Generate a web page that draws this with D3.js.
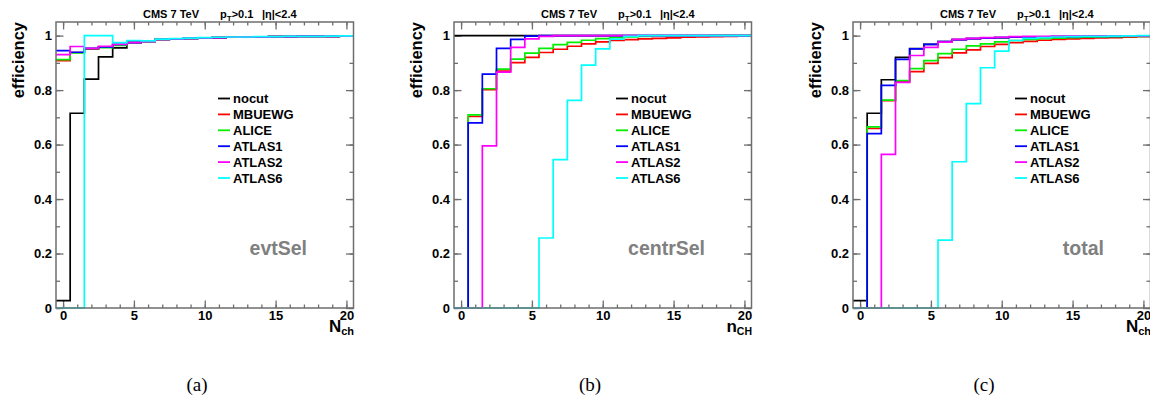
<!DOCTYPE html>
<html>
<head>
<meta charset="utf-8">
<script src="https://cdn.jsdelivr.net/npm/d3@7/dist/d3.min.js"></script>
<style>
  html, body { margin: 0; padding: 0; background: #fff; }
  svg { display: block; font-family: "Liberation Sans", Arial, sans-serif; }
</style>
</head>
<body>
<svg id="chart" width="1150" height="399"></svg>
<script>
// Bin centres 0..20 (unit-width bins)
const nch = d3.range(0, 21);

const seriesNames = ["nocut", "MBUEWG", "ALICE", "ATLAS1", "ATLAS2", "ATLAS6"];
const seriesColors = ["#000000", "#ff0000", "#00ee00", "#0000ff", "#ff00ff", "#00ffff"];

// (a) event selection efficiency
const evtSel_nocut  = [0.027, 0.715, 0.840, 0.922, 0.955, 0.975, 0.979, 0.986, 0.988, 0.990, 0.992, 0.993, 0.994, 0.995, 0.995, 0.996, 0.996, 0.997, 0.997, 0.997, 0.998];
const evtSel_MBUEWG = [0.908, 0.938, 0.950, 0.958, 0.966, 0.973, 0.979, 0.986, 0.988, 0.990, 0.992, 0.993, 0.994, 0.995, 0.995, 0.996, 0.996, 0.997, 0.997, 0.997, 0.998];
const evtSel_ALICE  = [0.912, 0.937, 0.952, 0.956, 0.964, 0.972, 0.979, 0.986, 0.988, 0.990, 0.992, 0.993, 0.994, 0.995, 0.995, 0.996, 0.996, 0.997, 0.997, 0.997, 0.998];
const evtSel_ATLAS1 = [0.945, 0.939, 0.953, 0.959, 0.968, 0.974, 0.979, 0.986, 0.988, 0.990, 0.992, 0.993, 0.994, 0.995, 0.995, 0.996, 0.996, 0.997, 0.997, 0.997, 0.998];
const evtSel_ATLAS2 = [0.930, 0.960, 0.953, 0.961, 0.968, 0.974, 0.979, 0.986, 0.988, 0.990, 0.992, 0.993, 0.994, 0.995, 0.995, 0.996, 0.996, 0.997, 0.997, 0.997, 0.998];
const evtSel_ATLAS6 = [0.000, 0.000, 1.000, 1.000, 0.974, 0.982, 0.981, 0.987, 0.989, 0.991, 0.993, 0.994, 0.995, 0.995, 0.996, 0.996, 0.997, 0.997, 0.997, 0.998, 0.999];

// (b) centrality-selection efficiency
const centrSel_nocut  = [1, 1, 1, 1, 1, 1, 1, 1, 1, 1, 1, 1, 1, 1, 1, 1, 1, 1, 1, 1, 1];
const centrSel_MBUEWG = [0.000, 0.703, 0.802, 0.870, 0.901, 0.920, 0.938, 0.950, 0.961, 0.970, 0.977, 0.982, 0.985, 0.988, 0.990, 0.992, 0.994, 0.995, 0.996, 0.997, 0.998];
const centrSel_ALICE  = [0.000, 0.709, 0.805, 0.877, 0.914, 0.936, 0.953, 0.967, 0.975, 0.983, 0.989, 0.993, 0.995, 0.997, 0.998, 0.998, 0.999, 0.999, 1.000, 1.000, 1.000];
const centrSel_ATLAS1 = [0.000, 0.680, 0.859, 0.953, 0.986, 0.998, 1.000, 1.000, 1.000, 1.000, 1.000, 1.000, 1.000, 1.000, 1.000, 1.000, 1.000, 1.000, 1.000, 1.000, 1.000];
const centrSel_ATLAS2 = [0.000, 0.000, 0.595, 0.866, 0.957, 0.988, 0.997, 1.000, 1.000, 1.000, 1.000, 1.000, 1.000, 1.000, 1.000, 1.000, 1.000, 1.000, 1.000, 1.000, 1.000];
const centrSel_ATLAS6 = [0.000, 0.000, 0.000, 0.000, 0.000, 0.000, 0.257, 0.545, 0.762, 0.892, 0.951, 0.987, 0.997, 1.000, 1.000, 1.000, 1.000, 1.000, 1.000, 1.000, 1.000];

// (c) total efficiency
const total_nocut  = [0.027, 0.715, 0.838, 0.920, 0.952, 0.968, 0.978, 0.985, 0.989, 0.991, 0.993, 0.994, 0.995, 0.995, 0.996, 0.996, 0.997, 0.997, 0.997, 0.998, 0.998];
const total_MBUEWG = [0.000, 0.659, 0.761, 0.831, 0.868, 0.898, 0.919, 0.937, 0.948, 0.960, 0.968, 0.974, 0.979, 0.983, 0.986, 0.988, 0.990, 0.992, 0.993, 0.994, 0.996];
const total_ALICE  = [0.000, 0.665, 0.763, 0.835, 0.879, 0.908, 0.934, 0.950, 0.962, 0.970, 0.977, 0.982, 0.986, 0.989, 0.991, 0.993, 0.994, 0.995, 0.996, 0.997, 0.997];
const total_ATLAS1 = [0.000, 0.640, 0.817, 0.913, 0.951, 0.968, 0.978, 0.985, 0.989, 0.991, 0.993, 0.994, 0.995, 0.995, 0.996, 0.996, 0.997, 0.997, 0.997, 0.998, 0.998];
const total_ATLAS2 = [0.000, 0.000, 0.564, 0.828, 0.927, 0.957, 0.976, 0.986, 0.990, 0.993, 0.994, 0.996, 0.997, 0.997, 0.997, 0.998, 0.998, 0.998, 0.998, 0.998, 0.999];
const total_ATLAS6 = [0.000, 0.000, 0.000, 0.000, 0.000, 0.000, 0.249, 0.537, 0.750, 0.882, 0.943, 0.982, 0.990, 0.993, 0.995, 0.996, 0.997, 0.997, 0.998, 0.999, 1.000];

const xMajorTicks = [0, 5, 10, 15, 20];
const xMinorTicks = d3.range(0, 21);
const yMajorTicks = [0, 0.2, 0.4, 0.6, 0.8, 1];
const yTickLabels = ["0", "0.2", "0.4", "0.6", "0.8", "1"];
const yMinorTicks = d3.range(0, 11).map(i => i / 10);

const panels = [
  { left: 56,  tag: "evtSel",   caption: "(a)", capX: 197, xTitle: ["N", "ch"],
    series: [evtSel_nocut, evtSel_MBUEWG, evtSel_ALICE, evtSel_ATLAS1, evtSel_ATLAS2, evtSel_ATLAS6] },
  { left: 454, tag: "centrSel", caption: "(b)", capX: 590, xTitle: ["n", "CH"],
    series: [centrSel_nocut, centrSel_MBUEWG, centrSel_ALICE, centrSel_ATLAS1, centrSel_ATLAS2, centrSel_ATLAS6] },
  { left: 853, tag: "total",    caption: "(c)", capX: 984, xTitle: ["N", "ch"],
    series: [total_nocut, total_MBUEWG, total_ALICE, total_ATLAS1, total_ATLAS2, total_ATLAS6] }
];

const svg = d3.select("#chart");
const frameW = 297.5, frameTop = 22, frameBottom = 308;
const frameColor = "#6e6e6e";

panels.forEach(p => {
  const x = d3.scaleLinear().domain([-0.5, 20.5]).range([p.left, p.left + frameW]);
  const y = d3.scaleLinear().domain([0, 1.05]).range([frameBottom, frameTop]);
  const g = svg.append("g");

  // minor ticks on all four sides
  const minorBottom = d3.axisBottom(x).tickValues(xMinorTicks).tickSize(-3.5).tickSizeOuter(0).tickFormat("");
  const minorTop = d3.axisTop(x).tickValues(xMinorTicks).tickSize(-3.5).tickSizeOuter(0).tickFormat("");
  const minorLeft = d3.axisLeft(y).tickValues(yMinorTicks).tickSize(-4).tickSizeOuter(0).tickFormat("");
  const minorRight = d3.axisRight(y).tickValues(yMinorTicks).tickSize(-4).tickSizeOuter(0).tickFormat("");
  g.append("g").attr("transform", `translate(0,${frameBottom})`).call(minorBottom);
  g.append("g").attr("transform", `translate(0,${frameTop})`).call(minorTop);
  g.append("g").attr("transform", `translate(${p.left},0)`).call(minorLeft);
  g.append("g").attr("transform", `translate(${p.left + frameW},0)`).call(minorRight);

  // major ticks and labels
  const xAxis = d3.axisBottom(x).tickValues(xMajorTicks).tickSize(-7.5).tickSizeOuter(0).tickPadding(3).tickFormat(d => String(d));
  const xAxisTop = d3.axisTop(x).tickValues(xMajorTicks).tickSize(-7.5).tickSizeOuter(0).tickFormat("");
  const yAxis = d3.axisLeft(y).tickValues(yMajorTicks).tickSize(-7.5).tickSizeOuter(0).tickPadding(4)
    .tickFormat((d, i) => yTickLabels[i]);
  const yAxisRight = d3.axisRight(y).tickValues(yMajorTicks).tickSize(-7.5).tickSizeOuter(0).tickFormat("");
  g.append("g").attr("transform", `translate(0,${frameBottom})`).call(xAxis);
  g.append("g").attr("transform", `translate(0,${frameTop})`).call(xAxisTop);
  g.append("g").attr("transform", `translate(${p.left},0)`).call(yAxis);
  g.append("g").attr("transform", `translate(${p.left + frameW},0)`).call(yAxisRight);

  g.selectAll(".domain").remove();
  g.selectAll(".tick line").attr("stroke", frameColor).attr("stroke-width", 1.3);
  g.selectAll(".tick text").attr("font-family", "Liberation Sans, Arial, sans-serif")
    .attr("font-size", 13).attr("font-weight", "bold").attr("fill", "#000");

  // histograms drawn as steps over bin edges
  const line = d3.line().curve(d3.curveStepAfter).x(d => x(d[0])).y(d => y(d[1]));
  p.series.forEach((vals, si) => {
    const pts = nch.map((n, i) => [n - 0.5, vals[i]]);
    pts.push([20.5, vals[vals.length - 1]]);
    g.append("path").datum(pts).attr("d", line)
      .attr("fill", "none").attr("stroke", seriesColors[si]).attr("stroke-width", 1.7)
      .attr("stroke-linejoin", "miter");
  });

  // frame
  g.append("rect").attr("x", p.left).attr("y", frameTop).attr("width", frameW).attr("height", frameBottom - frameTop)
    .attr("fill", "none").attr("stroke", frameColor).attr("stroke-width", 1.5);

  // header
  const hdr = g.append("g").attr("font-size", 11).attr("font-weight", "bold").attr("fill", "#000");
  hdr.append("text").attr("x", p.left + 87).attr("y", 18).text("CMS 7 TeV");
  const pt = hdr.append("text").attr("x", p.left + 164).attr("y", 18);
  pt.append("tspan").text("p");
  pt.append("tspan").attr("dy", 3).attr("font-size", 8).text("T");
  pt.append("tspan").attr("dy", -3).text(">0.1");
  hdr.append("text").attr("x", p.left + 206).attr("y", 18).text("|η|<2.4");

  // y title
  g.append("text")
    .attr("transform", `translate(${p.left - 32},${frameTop}) rotate(-90)`)
    .attr("text-anchor", "end").attr("font-size", 16.5).attr("font-weight", "bold")
    .text("efficiency");

  // x title
  const xt = g.append("text").attr("x", p.left + frameW + 0.5).attr("y", 332)
    .attr("text-anchor", "end").attr("font-weight", "bold");
  xt.append("tspan").attr("font-size", 17).text(p.xTitle[0]);
  xt.append("tspan").attr("font-size", p.xTitle[1] === "CH" ? 10.5 : 11).attr("dy", 3).text(p.xTitle[1]);

  // legend
  const lg = g.append("g");
  seriesNames.forEach((name, si) => {
    const ly = 98.5 + si * 15.9;
    lg.append("line").attr("x1", p.left + 162).attr("x2", p.left + 174).attr("y1", ly).attr("y2", ly)
      .attr("stroke", seriesColors[si]).attr("stroke-width", 1.8);
    lg.append("text").attr("x", p.left + 177).attr("y", ly + 4.6)
      .attr("font-size", 13).attr("font-weight", "bold").text(name);
  });

  // selection tag
  g.append("text").attr("x", p.left + 251).attr("y", 255).attr("text-anchor", "end")
    .attr("font-size", 19.5).attr("font-weight", "bold").attr("fill", "#808080").text(p.tag);

  // sub-figure caption
  svg.append("text").attr("x", p.capX).attr("y", 391).attr("text-anchor", "middle")
    .attr("font-family", "Liberation Serif, 'DejaVu Serif', serif").attr("font-size", 19).text(p.caption);
});
</script>
</body>
</html>
